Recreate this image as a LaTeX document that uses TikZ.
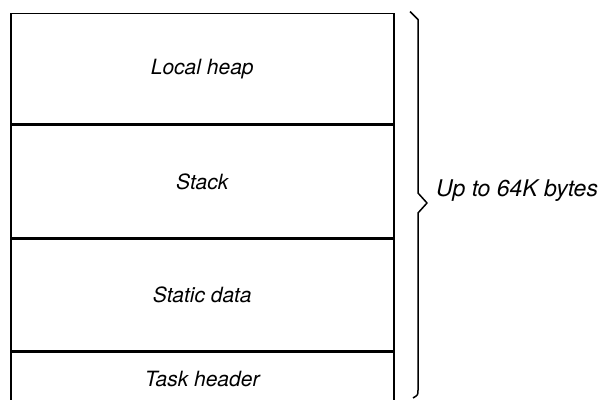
\documentclass[tikz,border=0pt]{standalone}
\usepackage{fontspec}
\setmainfont{TeX Gyre Heros}
\begin{document}
\begin{tikzpicture}[x=1pt,y=1pt,
  seg/.style={draw,line width=1.5pt,minimum width=383pt,inner sep=0pt,
    font=\fontsize{21}{24}\selectfont\itshape,anchor=north west},
  bracestyle/.style={draw,line width=1.5pt,line join=round},
  lbl/.style={font=\fontsize{23}{26}\selectfont\itshape,inner sep=0pt}]
\useasboundingbox (0,0) rectangle (607,399);
% memory segments, top to bottom
\node[seg,minimum height=110pt] (heap)   at (10,386) {Local heap};
\node[seg,minimum height=113pt] (stack)  at (heap.south west)  {Stack};
\node[seg,minimum height=111pt] (static) at (stack.south west) {Static data};
\node[seg,minimum height=54pt]  (header) at (static.south west) {Task header};
% hand-drawn brace spanning the whole segment
\coordinate (btop) at (410,387.5);
\coordinate (btip) at (427,196);
\coordinate (bbot) at (413,1);
\draw[bracestyle] (btop) -- (418,379.5) -- (418,206) -- (btip) -- (418,186)
  -- (418,9) .. controls (418,4) .. (bbot);
\node[lbl,anchor=base west] (size) at (436,202) {Up to 64K bytes};
\end{tikzpicture}
\end{document}
